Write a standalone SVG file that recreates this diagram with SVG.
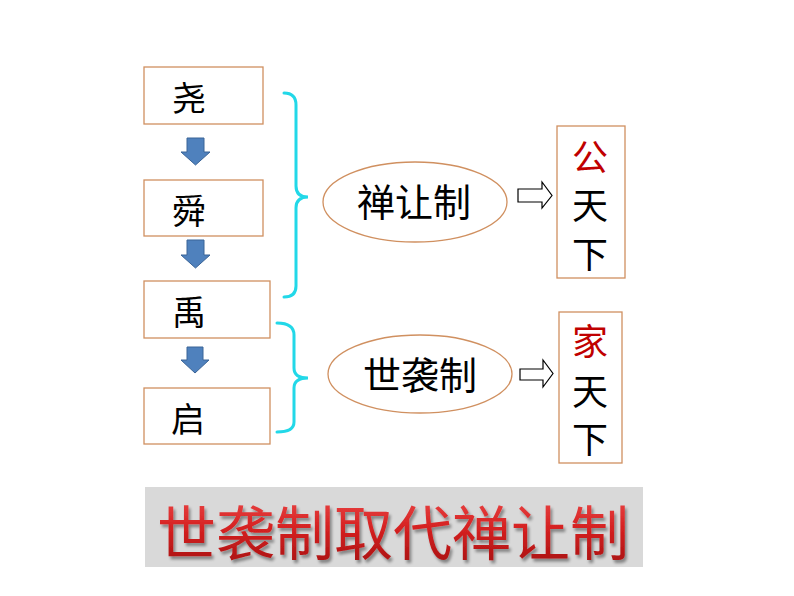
<svg xmlns="http://www.w3.org/2000/svg" width="794" height="596" viewBox="0 0 794 596">
<style>
.box{fill:#fff;stroke:#d09060;stroke-width:1.3}
.ell{fill:#fff;stroke:#d09060;stroke-width:1.3}
.t{font-family:"Noto Sans CJK SC","Noto Sans CJK TC",sans-serif;fill:#000}
.v{font-size:36px}
.brace{fill:none;stroke:#22d8e8;stroke-width:3;stroke-linecap:round}
.down{fill:#4f81bd;stroke:#3a6497;stroke-width:1}
.hollow{fill:#fff;stroke:#000;stroke-width:1.2}
</style>
<defs>
<linearGradient id="rg" x1="0" y1="0" x2="0" y2="1">
<stop offset="0" stop-color="#f05050"/>
<stop offset="0.5" stop-color="#d42020"/>
<stop offset="1" stop-color="#a01010"/>
</linearGradient>
<filter id="sh" x="-5%" y="-10%" width="110%" height="130%">
<feGaussianBlur in="SourceAlpha" stdDeviation="1.5"/>
<feOffset dx="2" dy="3" result="b"/>
<feComponentTransfer><feFuncA type="linear" slope="0.4"/></feComponentTransfer>
<feMerge><feMergeNode/><feMergeNode in="SourceGraphic"/></feMerge>
</filter>
</defs>
<rect width="794" height="596" fill="#fff"/>
<g id="yao"><rect class="box" x="144" y="67" width="119" height="57"/><text class="t" x="189" y="111" font-size="34" text-anchor="middle">尧</text></g>
<g id="shun"><rect class="box" x="144" y="180" width="119" height="56"/><text class="t" x="189" y="224" font-size="34" text-anchor="middle">舜</text></g>
<g id="yu"><rect class="box" x="144" y="281" width="126" height="57"/><text class="t" x="189" y="325" font-size="34" text-anchor="middle">禹</text></g>
<g id="qi"><rect class="box" x="144" y="388" width="126" height="56"/><text class="t" x="188" y="432" font-size="34" text-anchor="middle">启</text></g>
<g id="shanrang"><ellipse class="ell" cx="415" cy="202" rx="92" ry="40"/><text class="t" x="414" y="216" font-size="38" text-anchor="middle">禅让制</text></g>
<g id="shixi"><ellipse class="ell" cx="420" cy="374" rx="92" ry="39"/><text class="t" x="420" y="389" font-size="38" text-anchor="middle">世袭制</text></g>
<g id="gongtianxia"><rect class="box" x="557" y="126" width="68" height="152"/>
<text class="t v" x="590" y="171" text-anchor="middle" style="fill:#c00000">公</text>
<text class="t v" x="590" y="219" text-anchor="middle">天</text>
<text class="t v" x="590" y="268" text-anchor="middle">下</text></g>
<g id="jiatianxia"><rect class="box" x="559" y="312" width="63" height="151"/>
<text class="t v" x="590" y="355" text-anchor="middle" style="fill:#c00000">家</text>
<text class="t v" x="590" y="405" text-anchor="middle">天</text>
<text class="t v" x="590" y="453" text-anchor="middle">下</text></g>
<g id="banner"><rect x="145" y="487" width="498" height="80" fill="#d9d9d9"/>
<text x="393" y="555" font-size="59" text-anchor="middle" font-family="'Noto Sans CJK SC',sans-serif" fill="url(#rg)" filter="url(#sh)">世袭制取代禅让制</text></g>
<g id="connectors">
<path class="down" d="M187,138 H204 V152 H210 L195.5,165 L181,152 H187 Z"/>
<path class="down" d="M187,240 H204 V255 H210 L195.5,268 L181,255 H187 Z"/>
<path class="down" d="M187,347 H203 V360 H209 L195,373 L181,360 H187 Z"/>
<path class="brace" d="M284,93 Q296,93 296,105 V186 Q296,197 308,197 Q296,197 296,208 V286 Q296,297 284,297"/>
<path class="brace" d="M277,323 Q294,323 294,335 V368 Q294,378 308,378 Q294,378 294,388 V422 Q294,432 277,432"/>
<path class="hollow" d="M518,189 H542 V182 L552,195.5 L542,208 V202 H518 Z"/>
<path class="hollow" d="M520,369 H543 V360 L553,373.5 L543,387 V380 H520 Z"/>
</g>
</svg>
